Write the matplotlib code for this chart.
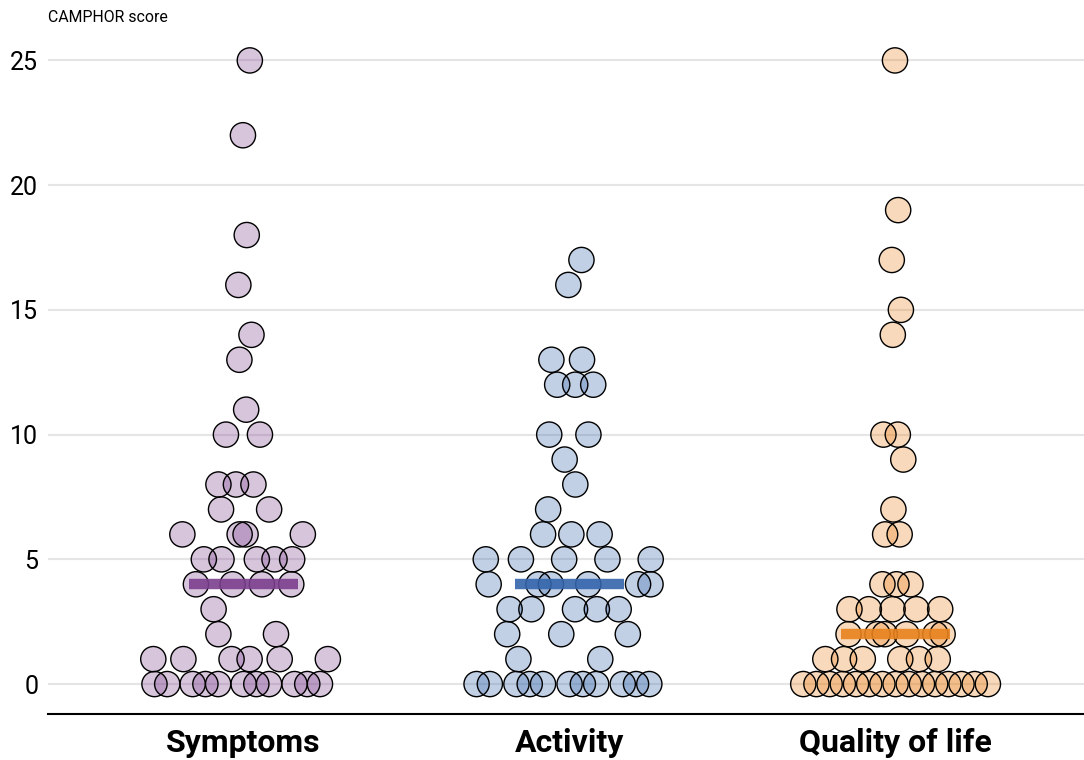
import numpy as np
import matplotlib
matplotlib.use("Agg")
import matplotlib.pyplot as plt
from matplotlib import font_manager

# CAMPHOR domain scores, one value per patient
symptoms = ([0] * 11 + [1] * 6 + [2] * 2 + [3] + [4] * 4 + [5] * 5 + [6] * 4 + [7] * 2
            + [8] * 3 + [10] * 2 + [11, 13, 14, 16, 18, 22, 25])
activity = ([0] * 11 + [1] * 2 + [2] * 3 + [3] * 5 + [4] * 6 + [5] * 5 + [6] * 3
            + [7, 8, 9] + [10] * 2 + [12] * 3 + [13] * 2 + [16, 17])
quality = ([0] * 15 + [1] * 6 + [2] * 6 + [3] * 5 + [4] * 3 + [6] * 2 + [7, 9]
           + [10] * 2 + [14, 15, 17, 19, 25])

groups = ["Symptoms", "Activity", "Quality of life"]
series = [symptoms, activity, quality]
colors = ["#7b3f8e", "#3465ac", "#e8821e"]
yticks = [0, 5, 10, 15, 20, 25]


def pick_font(names):
    have = {f.name for f in font_manager.fontManager.ttflist}
    for n in names:
        if n in have:
            return n
    return "DejaVu Sans"


font = pick_font(["Roboto", "DejaVu Sans"])


def van_der_corput(n):
    out = []
    for i in range(1, n + 1):
        v, denom, k = 0.0, 1.0, i
        while k:
            denom *= 2
            k, r = divmod(k, 2)
            v += r / denom
        out.append(v)
    return np.array(out)


def quasirandom(values, width=0.4, adjust=0.5):
    """Horizontal offsets like vipor's quasirandom method."""
    y = np.asarray(values, float)
    n = len(y)
    sd = y.std(ddof=1)
    q75, q25 = np.percentile(y, [75, 25])
    bw = adjust * 0.9 * min(sd, (q75 - q25) / 1.34) * n ** -0.2
    grid = np.linspace(y.min() - 3 * bw, y.max() + 3 * bw, 1024)
    dens = np.exp(-0.5 * ((grid[:, None] - y[None, :]) / bw) ** 2).sum(1)
    dens /= dens.max()
    d = np.interp(y, grid, dens)
    rank = np.argsort(np.argsort(y, kind="stable"), kind="stable")
    return (van_der_corput(n)[rank] - 0.5) * 2 * d * width


fig = plt.figure(figsize=(10.84, 7.6), dpi=100)
ax = fig.add_axes([48 / 1084, 1 - 714 / 760, 1 - 48 / 1084, (714 - 23) / 760])

for i, (vals, col) in enumerate(zip(series, colors)):
    xs = i + quasirandom(vals, width=0.33)
    ax.scatter(xs, vals, s=330, facecolor=col, alpha=0.3, edgecolor="none", zorder=3)
    ax.scatter(xs, vals, s=330, facecolor="none", edgecolor="black", linewidth=1.0, zorder=4)
    med = np.median(vals)
    ax.plot([i - 0.167, i + 0.167], [med, med], color=col, linewidth=7.5,
            alpha=0.9, solid_capstyle="butt", zorder=5)

ax.set_xlim(-0.6, 2.578)
ax.set_ylim(-1.2, 26.5)
ax.set_yticks(yticks)
ax.set_xticks(range(len(groups)))
ax.set_xticklabels(groups, fontfamily=font, fontweight="bold", fontsize=23)
for lab in ax.get_yticklabels():
    lab.set_fontfamily(font)
    lab.set_fontsize(18)
ax.tick_params(axis="y", length=0, pad=7)
ax.tick_params(axis="x", length=0, pad=10)
ax.grid(axis="y", color="#e5e5e5", linewidth=1.5, zorder=0)
ax.set_axisbelow(True)
for s in ["top", "right", "left"]:
    ax.spines[s].set_visible(False)
ax.spines["bottom"].set_linewidth(1.5)
ax.spines["bottom"].set_color("black")

fig.text(48 / 1084, 1 - 18 / 760, "CAMPHOR score", fontfamily=font, fontsize=11.4,
         ha="left", va="center")

fig.savefig("out.png", dpi=100)
